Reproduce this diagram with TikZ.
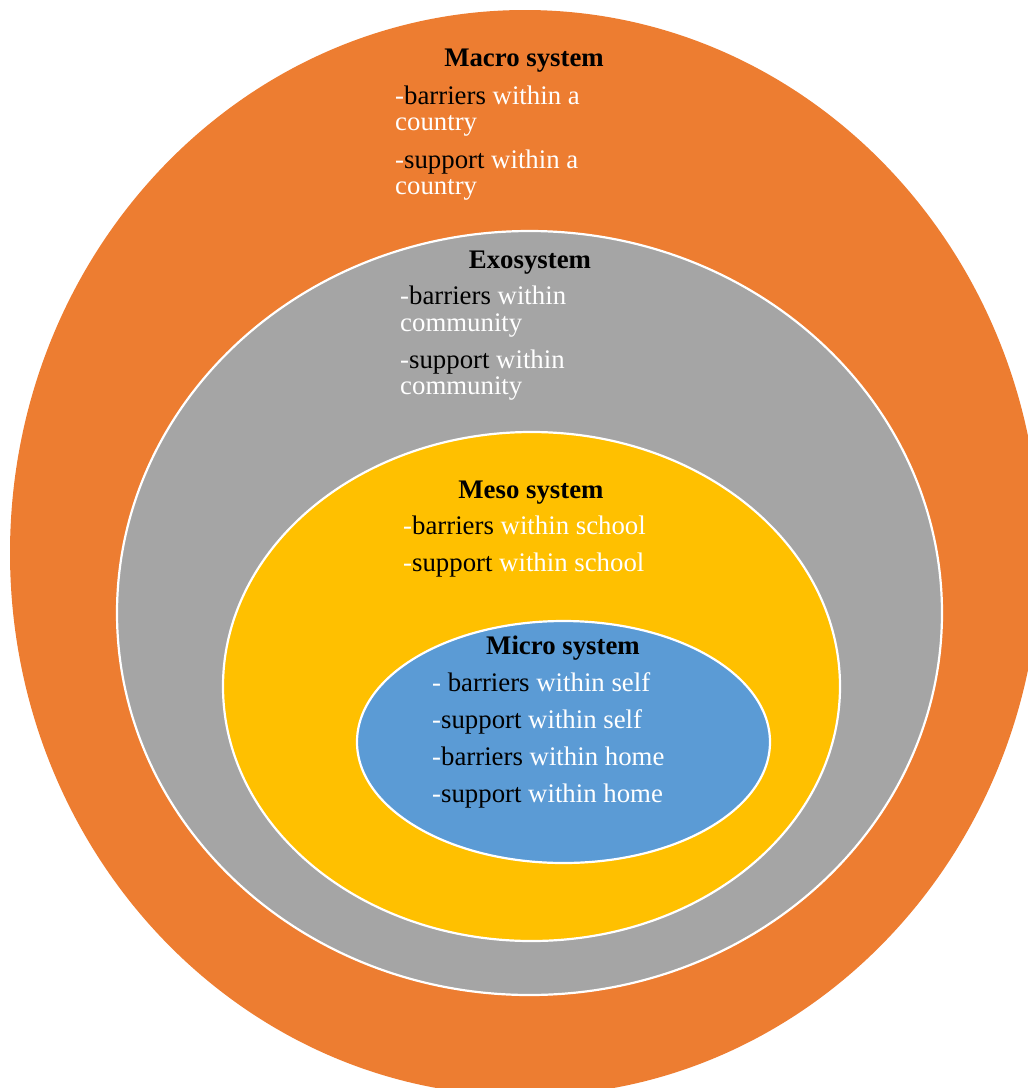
\documentclass[tikz,border=0pt]{standalone}
\usepackage{fontspec}
\setmainfont{Liberation Serif}
\definecolor{macroC}{HTML}{ED7D31}
\definecolor{exoC}{HTML}{A5A5A5}
\definecolor{mesoC}{HTML}{FFC000}
\definecolor{microC}{HTML}{5B9BD5}
\newcommand{\bk}[1]{\textcolor{black}{#1}}
\tikzset{
  ring/.style={draw=white, line width=2.2pt},
  ttl/.style={anchor=base, inner sep=0pt, text=black, font=\fontsize{26.8}{30}\selectfont\bfseries},
  itm/.style={anchor=base west, inner sep=0pt, text=white, font=\fontsize{26.8}{30}\selectfont}
}
\begin{document}
\begin{tikzpicture}[x=1pt,y=-1pt]
\useasboundingbox (0,0) rectangle (1028,1088);
\clip (0,0) rectangle (1028,1088);
% rings
\fill[macroC] (525,553) ellipse [x radius=515pt, y radius=543pt];
\fill[exoC, ring] (529.5,613) ellipse [x radius=412.5pt, y radius=382pt];
\fill[mesoC, ring] (531.5,686.5) ellipse [x radius=308.5pt, y radius=254.5pt];
\fill[microC, ring] (563.5,742) ellipse [x radius=206.5pt, y radius=121pt];
% Macro
\node[ttl] (macroT) at (524,66) {Macro system};
\node[itm] (macro1) at (395,104) {-\bk{barriers} within a};
\node[itm] (macro2) at (395,130) {country};
\node[itm] (macro3) at (395,168) {-\bk{support} within a};
\node[itm] (macro4) at (395,194) {country};
% Exo
\node[ttl] (exoT) at (530,268) {Exosystem};
\node[itm] (exo1) at (400,304) {-\bk{barriers} within};
\node[itm] (exo2) at (400,331) {community};
\node[itm] (exo3) at (400,368) {-\bk{support} within};
\node[itm] (exo4) at (400,394) {community};
% Meso
\node[ttl] (mesoT) at (531,498) {Meso system};
\node[itm] (meso1) at (403,534) {-\bk{barriers} within school};
\node[itm] (meso2) at (403,571) {-\bk{support} within school};
% Micro
\node[ttl] (microT) at (563,654) {Micro system};
\node[itm] (micro1) at (432,691) {- \bk{barriers} within self};
\node[itm] (micro2) at (432,728) {-\bk{support} within self};
\node[itm] (micro3) at (432,765) {-\bk{barriers} within home};
\node[itm] (micro4) at (432,802) {-\bk{support} within home};
\end{tikzpicture}
\end{document}
